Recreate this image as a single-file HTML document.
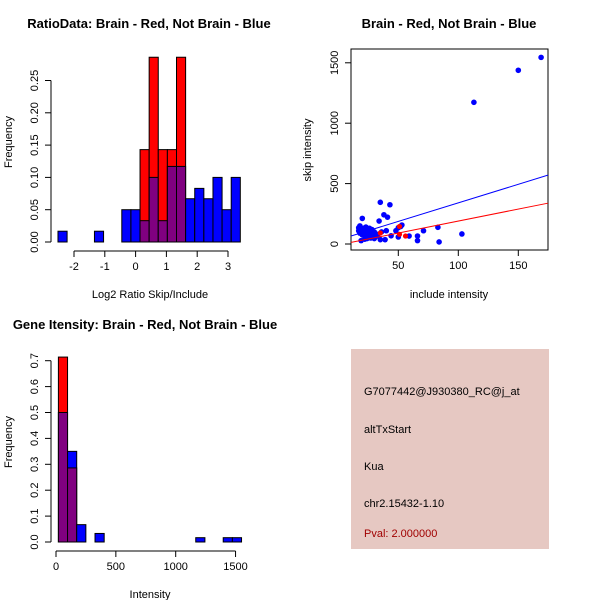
<!DOCTYPE html>
<html><head><meta charset="utf-8"><style>
body{margin:0;background:#fff}
svg text{font-family:"Liberation Sans",sans-serif;font-size:11px;fill:#000}
.t{font-weight:bold;font-size:13px}
</style></head><body>
<svg id="c" width="600" height="600" viewBox="0 0 600 600">
<rect width="600" height="600" fill="#fff"/>
<g id="p1"></g>
<g id="p2"></g>
<g id="p3"></g>
<g id="p4">
<rect x="351" y="349" width="198" height="200" fill="#e6c8c2"/>
<text x="364" y="395">G7077442@J930380_RC@j_at</text>
<text x="364" y="433">altTxStart</text>
<text x="364" y="470">Kua</text>
<text x="364" y="507">chr2.15432-1.10</text>
<text x="364" y="537" style="fill:#a00000">Pval: 2.000000</text>
</g>
</svg>
<script>
// Ratio histogram data
const ratioBinStart = -2.52, ratioBinWidth = 0.296;
const ratioBlue = [0.0167,0,0,0,0.0167,0,0,0.05,0.05,0.033,0.10,0.033,0.117,0.117,0.067,0.083,0.067,0.10,0.05,0.10];
const ratioRed  = [0,0,0,0,0,0,0,0,0,0.143,0.286,0.143,0.143,0.286,0,0,0,0,0,0];
const ratioXTicks = [-2,-1,0,1,2,3];
const ratioYTicks = ["0.00","0.05","0.10","0.15","0.20","0.25"];
// Intensity histogram data
const intBinStart = 20, intBinWidth = 76.5;
const intBlue = [0.50,0.35,0.067,0,0.033,0,0,0,0,0,0,0,0,0,0,0.0167,0,0,0.0167,0.0167];
const intRed  = [0.714,0.286,0,0,0,0,0,0,0,0,0,0,0,0,0,0,0,0,0,0];
const intXTicks = [0,500,1000,1500];
const intYTicks = ["0.0","0.1","0.2","0.3","0.4","0.5","0.6","0.7"];
// Scatter data
const blueX = [113,150,169,35,43,38,41,34,20,83,103,84,71,66,66,59,53,50,48,50,44,39,35,19,17,17,18,19,20,21,22,23,24,25,26,27,28,29,30,31,22,24,26,28,21,23,25,27,29,32,20,22,30,36,40,18,23,27,33,52];
const blueY = [1173,1438,1545,345,325,242,222,190,212,138,83,17,110,66,28,66,157,135,110,58,68,36,36,28,135,110,90,120,80,100,70,110,60,90,130,50,120,80,100,70,40,45,55,60,130,125,115,105,95,65,75,85,45,100,110,150,140,120,80,145];
const redX = [35,51,51,56];
const redY = [91,145,80,66];
const scXTicks = [50,100,150];
const scYTicks = [0,500,1000,1500];
const blueFit = [33.5, 3.07];   // intercept, slope
const redFit  = [-8, 1.98];

const NS="http://www.w3.org/2000/svg";
function mk(parent,tag,attrs,text){const e=document.createElementNS(NS,tag);for(const k in attrs)e.setAttribute(k,attrs[k]);if(text!==undefined)e.textContent=text;parent.appendChild(e);return e;}

function hist(g,o){
  const X=v=>o.x0+(v-o.xv0)*o.xs, Y=v=>o.y0-v*o.ys;
  for(let i=0;i<o.blue.length;i++){
    const a=o.start+i*o.w, b=a+o.w, bl=o.blue[i], rd=o.red[i];
    const mn=Math.min(bl,rd), mx=Math.max(bl,rd);
    if(mx<=0) continue;
    const top=mk(g,'rect',{x:X(a),y:Y(mx),width:X(b)-X(a),height:Y(0)-Y(mx),fill:bl>=rd?'#0000ff':'#ff0000',stroke:'#000','stroke-width':1});
    
    
    if(mn>0){
      const p=mk(g,'rect',{x:X(a),y:Y(mn),width:X(b)-X(a),height:Y(0)-Y(mn),fill:'#800080',stroke:'#000','stroke-width':1});
      
      
    }
  }
  const ax=mk(g,'g',{});
  
  
  const xt=o.xticks;
  mk(ax,'line',{x1:X(xt[0]),x2:X(xt[xt.length-1]),y1:o.axY,y2:o.axY,stroke:'#000'});
  xt.forEach(t=>{mk(ax,'line',{x1:X(t),x2:X(t),y1:o.axY,y2:o.axY+6,stroke:'#000'});mk(ax,'text',{x:X(t),y:o.axY+19,'text-anchor':'middle'},String(t));});
  const ay=mk(g,'g',{});
  
  
  const yv=o.yticks.map(Number);
  mk(ay,'line',{x1:o.axX,x2:o.axX,y1:Y(yv[0]),y2:Y(yv[yv.length-1]),stroke:'#000'});
  o.yticks.forEach(t=>{const y=Y(+t);mk(ay,'line',{x1:o.axX-6,x2:o.axX,y1:y,y2:y,stroke:'#000'});mk(ay,'text',{x:o.axX-13,y:y,'text-anchor':'middle',transform:`rotate(-90 ${o.axX-13} ${y})`},t);});
  const yl=mk(g,'text',{x:12,y:o.ylabY,'text-anchor':'middle',transform:`rotate(-90 12 ${o.ylabY})`},'Frequency');
  
  
  const xl=mk(g,'text',{x:150,y:o.xlabY,'text-anchor':'middle'},o.xlab);
  
  
  const ti=mk(g,'text',{x:o.titleX,y:o.titleY,'text-anchor':'middle',class:'t'},o.title);
  
  
}

hist(document.getElementById('p1'),{x0:74,xv0:-2,xs:30.8,y0:242,ys:646,start:ratioBinStart,w:ratioBinWidth,blue:ratioBlue,red:ratioRed,xticks:ratioXTicks,yticks:ratioYTicks,axY:251,axX:51,ylabY:142,xlabY:298,xlab:'Log2 Ratio Skip/Include',title:'RatioData: Brain - Red, Not Brain - Blue',titleX:149,titleY:28});
hist(document.getElementById('p3'),{x0:56,xv0:0,xs:0.1197,y0:542,ys:259,start:intBinStart,w:intBinWidth,blue:intBlue,red:intRed,xticks:intXTicks,yticks:intYTicks,axY:551,axX:51,ylabY:442,xlabY:598,xlab:'Intensity',title:'Gene Itensity: Brain - Red, Not Brain - Blue',titleX:145,titleY:329});

(function(){
  const g=document.getElementById('p2');
  const X=v=>338.3+v*1.2, Y=v=>244-v*0.1208;
  const L=351,R=548,T=49,B=250;
  const box=mk(g,'rect',{x:L,y:T,width:R-L,height:B-T,fill:'none',stroke:'#000'});
  
  
  const clip=mk(g,'clipPath',{id:'cl'});mk(clip,'rect',{x:L,y:T,width:R-L,height:B-T});
  const pts=mk(g,'g',{'clip-path':'url(#cl)'});
  
  
  blueX.forEach((x,i)=>{const c=mk(pts,'circle',{cx:X(x),cy:Y(blueY[i]),r:2.8,fill:'#0000ff'});
    
    });
  redX.forEach((x,i)=>{const c=mk(pts,'circle',{cx:X(x),cy:Y(redY[i]),r:2.6,fill:'#ff0000'});
    
    });
  const xa=10.6,xb=174.7;
  const bl=mk(pts,'line',{x1:X(xa),y1:Y(blueFit[0]+blueFit[1]*xa),x2:X(xb),y2:Y(blueFit[0]+blueFit[1]*xb),stroke:'#0000ff'});
  
  
  const rl=mk(pts,'line',{x1:X(xa),y1:Y(redFit[0]+redFit[1]*xa),x2:X(xb),y2:Y(redFit[0]+redFit[1]*xb),stroke:'#ff0000'});
  
  
  const ax=mk(g,'g',{});
  
  
  scXTicks.forEach(t=>{mk(ax,'line',{x1:X(t),x2:X(t),y1:B,y2:B+6,stroke:'#000'});mk(ax,'text',{x:X(t),y:B+19,'text-anchor':'middle'},String(t));});
  const ay=mk(g,'g',{});
  
  
  scYTicks.forEach(t=>{const y=Y(t);mk(ay,'line',{x1:L-6,x2:L,y1:y,y2:y,stroke:'#000'});mk(ay,'text',{x:L-13,y:y,'text-anchor':'middle',transform:`rotate(-90 ${L-13} ${y})`},String(t));});
  const yl=mk(g,'text',{x:311,y:150,'text-anchor':'middle',transform:'rotate(-90 311 150)'},'skip intensity');
  
  
  const xl=mk(g,'text',{x:449,y:298,'text-anchor':'middle'},'include intensity');
  
  
  const ti=mk(g,'text',{x:449,y:28,'text-anchor':'middle',class:'t'},'Brain - Red, Not Brain - Blue');
  
  
})();
</script>
</body></html>
